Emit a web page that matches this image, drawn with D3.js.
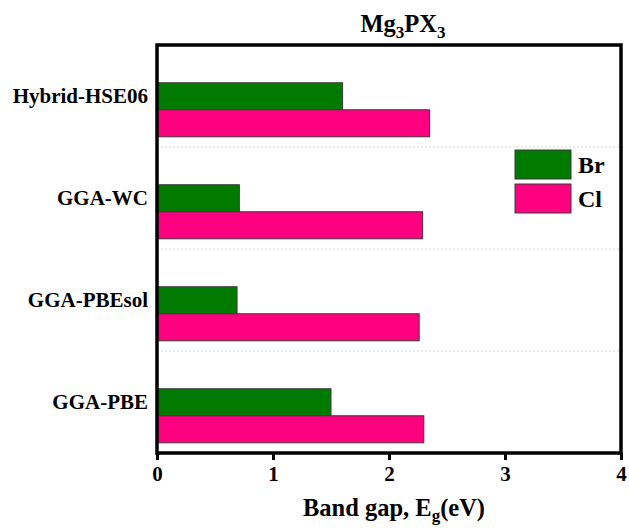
<!DOCTYPE html>
<html>
<head>
<meta charset="utf-8">
<script src="https://cdn.jsdelivr.net/npm/d3@7"></script>
<style>
  body { margin: 0; background: #fff; }
  text { font-family: "Liberation Serif", "Times New Roman", serif; font-weight: bold; fill: #000; }
</style>
</head>
<body>
<div id="chart-area"></div>
<script>
// Data
var methods = ["Hybrid-HSE06", "GGA-WC", "GGA-PBEsol", "GGA-PBE"];
var brGap = [1.60, 0.71, 0.69, 1.50];
var clGap = [2.35, 2.29, 2.26, 2.30];
var seriesNames = ["Br", "Cl"];
var xTicks = [0, 1, 2, 3, 4];

var colors = { Br: "#007a00", Cl: "#ff0080" };

var W = 629, H = 529;
var plotLeft = 157, plotRight = 621, plotTop = 45, plotBottom = 453;

var svg = d3.select("#chart-area").append("svg")
  .attr("width", W)
  .attr("height", H);

var x = d3.scaleLinear().domain([0, 4]).range([plotLeft, plotRight]);

var y = d3.scaleBand().domain(methods).range([plotTop, plotBottom]).padding(0);

// bars sit in the lower part of each band
var sub = d3.scaleBand().domain(seriesNames)
  .range([y.bandwidth() * 0.37, y.bandwidth() * 0.90])
  .padding(0);

var rows = methods.map(function (m, i) {
  return { method: m, Br: brGap[i], Cl: clGap[i] };
});

// dotted separators between categories
svg.append("g").selectAll("line")
  .data(methods.slice(1))
  .enter().append("line")
    .attr("x1", plotLeft).attr("x2", plotRight)
    .attr("y1", function (m) { return y(m); })
    .attr("y2", function (m) { return y(m); })
    .attr("stroke", "#d8d8d8")
    .attr("stroke-width", 1)
    .attr("stroke-dasharray", "2,2");

// bars
var groups = svg.append("g").selectAll("g")
  .data(rows)
  .enter().append("g")
    .attr("transform", function (d) { return "translate(0," + y(d.method) + ")"; });

groups.selectAll("rect")
  .data(function (d) { return seriesNames.map(function (s) { return { s: s, v: d[s] }; }); })
  .enter().append("rect")
    .attr("x", x(0))
    .attr("y", function (d) { return sub(d.s); })
    .attr("width", function (d) { return x(d.v) - x(0); })
    .attr("height", sub.bandwidth())
    .attr("fill", function (d) { return colors[d.s]; })
    .attr("stroke", "#3a3a3a")
    .attr("stroke-width", 1);

// x axis
var xAxis = d3.axisBottom(x).tickValues(xTicks).tickSize(7).tickPadding(6).tickFormat(d3.format("d"));
var xg = svg.append("g")
  .attr("transform", "translate(0," + plotBottom + ")")
  .call(xAxis);
xg.select(".domain").remove();
xg.selectAll(".tick line").attr("stroke", "#000").attr("stroke-width", 3);
xg.selectAll(".tick text")
  .style("font-family", "Liberation Serif, serif")
  .style("font-weight", "bold")
  .style("font-size", "21px")
  .attr("fill", "#000");

// y axis labels
var yAxis = d3.axisLeft(y).tickSize(0).tickPadding(9);
var yg = svg.append("g")
  .attr("transform", "translate(" + plotLeft + ",0)")
  .call(yAxis);
yg.select(".domain").remove();
yg.selectAll(".tick text")
  .style("font-family", "Liberation Serif, serif")
  .style("font-weight", "bold")
  .style("font-size", "21px")
  .attr("fill", "#000");

// frame
svg.append("rect")
  .attr("x", plotLeft).attr("y", plotTop)
  .attr("width", plotRight - plotLeft).attr("height", plotBottom - plotTop)
  .attr("fill", "none")
  .attr("stroke", "#000")
  .attr("stroke-width", 3.5);

// title
var title = svg.append("text")
  .attr("x", 403)
  .attr("y", 32)
  .attr("text-anchor", "middle")
  .style("font-size", "24.5px");
title.append("tspan").text("Mg");
title.append("tspan").attr("dy", 6).style("font-size", "17px").text("3");
title.append("tspan").attr("dy", -6).text("PX");
title.append("tspan").attr("dy", 6).style("font-size", "17px").text("3");

// x label
var xl = svg.append("text")
  .attr("x", 394)
  .attr("y", 516)
  .attr("text-anchor", "middle")
  .style("font-size", "24.5px");
xl.append("tspan").text("Band gap, E");
xl.append("tspan").attr("dy", 5).style("font-size", "17px").text("g");
xl.append("tspan").attr("dy", -5).text("(eV)");

// legend
var legend = svg.append("g").attr("transform", "translate(515,150)");
var li = legend.selectAll("g")
  .data(seriesNames)
  .enter().append("g")
    .attr("transform", function (d, i) { return "translate(0," + (i * 34) + ")"; });
li.append("rect")
  .attr("width", 56).attr("height", 29)
  .attr("fill", function (d) { return colors[d]; })
  .attr("stroke", "#3a3a3a")
  .attr("stroke-width", 1);
li.append("text")
  .attr("x", 63)
  .attr("y", 23)
  .style("font-size", "24px")
  .text(function (d) { return d; });
</script>
</body>
</html>
